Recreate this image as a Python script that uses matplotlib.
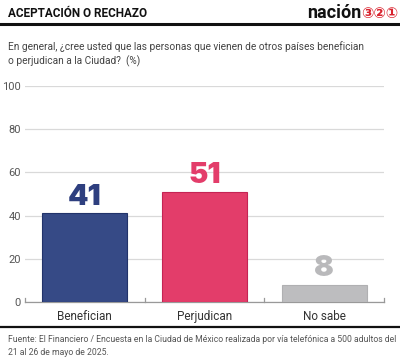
import matplotlib.pyplot as plt
from matplotlib.lines import Line2D

categories = ['Benefician', 'Perjudican', 'No sabe']
values = [41, 51, 8]
bar_colors = ['#364a86', '#e33d6a', '#bdbdbf']
edge_colors = ['#22336a', '#c42454', '#b0b0b2']
label_colors = ['#2e3f7f', '#e33d6a', '#b9b9bb']
yticks = [0, 20, 40, 60, 80, 100]

plt.rcParams['font.family'] = ['Roboto', 'DejaVu Sans']

fig = plt.figure(figsize=(4, 3.63), dpi=100)
ax = fig.add_axes([0.0625, 0.168, 0.8975, 0.595])

x = range(len(categories))
ax.bar(x, values, width=0.71, color=bar_colors, edgecolor=edge_colors, linewidth=0.8, zorder=3)
for i, v in enumerate(values):
    ax.text(i, v + 1.2, str(v), ha='center', va='bottom', fontsize=21,
            fontweight='black', color=label_colors[i], zorder=4,
            family=['Inter', 'Roboto'])

ax.set_xlim(-0.5, 2.5)
ax.set_ylim(0, 100)
ax.set_yticks(yticks)
ax.set_yticklabels([str(t) for t in yticks], fontsize=8, color='#555555')
ax.yaxis.grid(True, color='#d9d9d9', linewidth=0.9, zorder=0)
ax.tick_params(axis='y', length=0, pad=3)
ax.tick_params(axis='x', length=0, pad=6, labelsize=8.5, labelcolor='#333333')
ax.set_xticks(list(x))
ax.set_xticklabels(categories)
for s in ['top', 'right', 'left']:
    ax.spines[s].set_visible(False)
ax.spines['bottom'].set_color('#999999')
ax.spines['bottom'].set_linewidth(0.9)
for b in [-0.5, 0.5, 1.5, 2.5]:
    ax.plot([b, b], [0, 1.8], color='#999999', linewidth=0.9, clip_on=False, zorder=5)

# header
fig.text(0.02, 0.962, 'ACEPTACIÓN O RECHAZO', fontsize=8.5, fontweight='bold',
         color='#111111', va='center', ha='left')
fig.text(0.903, 0.964, 'nación', fontsize=13, fontweight='bold', color='#111111',
         va='center', ha='right')
fig.text(0.903, 0.962, '③②①', fontsize=10.5, fontweight='bold', color='#d9232e',
         va='center', ha='left', family=['DejaVu Sans'])
fig.add_artist(Line2D([0, 1], [0.934, 0.934], color='#111111', linewidth=2.2))

fig.text(0.02, 0.872, 'En general, ¿cree usted que las personas que vienen de otros países benefician',
         fontsize=7.3, color='#444444', va='center', ha='left')
fig.text(0.02, 0.83, 'o perjudican a la Ciudad?  (%)', fontsize=7.3, color='#444444',
         va='center', ha='left')

# footer
fig.add_artist(Line2D([0, 1], [0.099, 0.099], color='#111111', linewidth=1.6))
fig.text(0.02, 0.064, 'Fuente: El Financiero / Encuesta en la Ciudad de México realizada por vía telefónica a 500 adultos del',
         fontsize=6.2, color='#555555', va='center', ha='left')
fig.text(0.02, 0.03, '21 al 26 de mayo de 2025.', fontsize=6.2, color='#555555',
         va='center', ha='left')

fig.savefig('out.png', dpi=100)
